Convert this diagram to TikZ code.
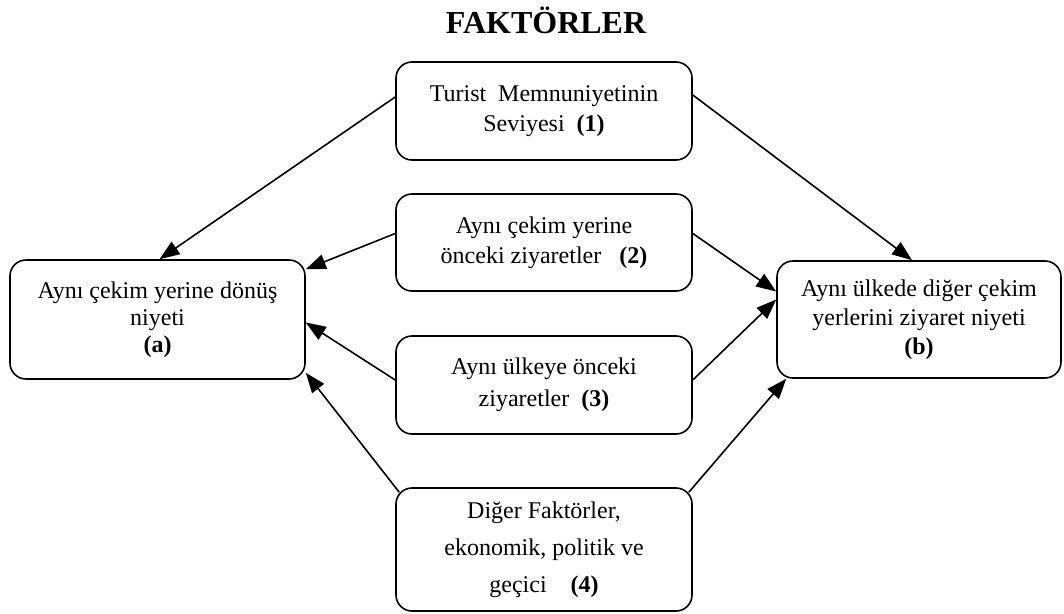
\documentclass[tikz,border=0pt]{standalone}
\usepackage{fontspec}
\setmainfont{Liberation Serif}
\usetikzlibrary{arrows.meta}
\begin{document}
\begin{tikzpicture}[x=1pt,y=-1pt,
  factbox/.style={draw, line width=1.6pt, rounded corners=16pt, inner sep=0pt,
                  align=center, font=\fontsize{24}{30}\selectfont},
  link/.style={line width=1.6pt, -{Triangle[length=20pt,width=15pt]}}]
\useasboundingbox (0,0) rectangle (1064,613);

% heading
\node[anchor=base, font=\fontsize{32}{38}\selectfont\bfseries] (title) at (546,33) {FAKTÖRLER};

% factor boxes in the middle column
\node[factbox, minimum width=296pt, minimum height=98pt] (f1) at (544,111)
  {Turist\ \ Memnuniyetinin\\Seviyesi\ \ \textbf{(1)}};
\node[factbox, minimum width=296pt, minimum height=97pt] (f2) at (544,242.5)
  {Aynı çekim yerine\\önceki ziyaretler\ \ \ \textbf{(2)}};
\node[factbox, minimum width=296pt, minimum height=98pt,
      font=\fontsize{24}{32}\selectfont] (f3) at (544,385)
  {Aynı ülkeye önceki\\ziyaretler\ \ \textbf{(3)}};
\node[factbox, minimum width=296pt, minimum height=123pt,
      font=\fontsize{24}{37}\selectfont] (f4) at (544,549.5)
  {Diğer Faktörler,\\ekonomik, politik ve\\geçici\ \ \ \ \textbf{(4)}};

% outcome boxes
\node[factbox, minimum width=295pt, minimum height=119pt,
      font=\fontsize{24}{27}\selectfont] (ra) at (157.5,319.5)
  {Aynı çekim yerine dönüş\\niyeti\\\textbf{(a)}};
\node[factbox, minimum width=284pt, minimum height=117pt,
      font=\fontsize{24}{29}\selectfont] (rb) at (919,319.5)
  {Aynı ülkede diğer çekim\\yerlerini ziyaret niyeti\\\textbf{(b)}};

% links to (a)
\draw[link] ([yshift=14pt]f1.west) -- ([xshift=2pt]ra.north);
\draw[link] ([yshift=9pt]f2.west) -- ([yshift=-10pt]ra.north east);
\draw[link] ([yshift=5pt]f3.west) -- ([yshift=-3pt]ra.east);
\draw[link] ([shift={(4pt,-5pt)}]f4.north west) -- ([yshift=7pt]ra.south east);

% links to (b)
\draw[link] ([yshift=16pt]f1.east) -- ([xshift=-7pt]rb.north);
\draw[link] ([yshift=9pt]f2.east) -- ([yshift=28pt]rb.west);
\draw[link] ([yshift=5pt]f3.east) -- ([yshift=20pt]rb.west);
\draw[link] ([shift={(-4pt,-5pt)}]f4.north east) -- ([xshift=10pt]rb.south west);
\end{tikzpicture}
\end{document}
